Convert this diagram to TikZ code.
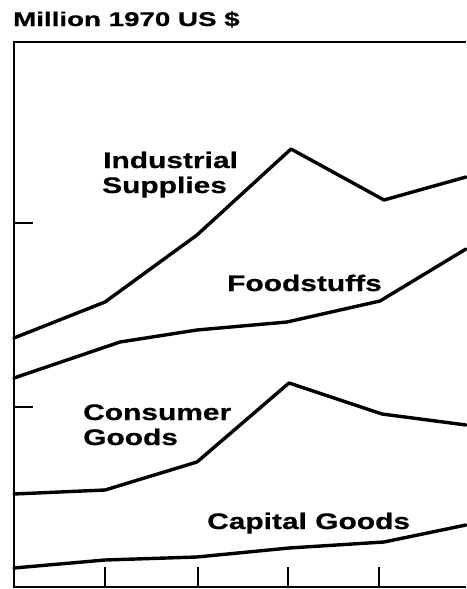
\documentclass[tikz,border=0pt]{standalone}
\usepackage{fontspec}
\newfontfamily\labfont[FakeStretch=1.33,FakeBold=0.6]{Liberation Sans}
\newfontfamily\ttlfont[FakeStretch=1.4,FakeBold=0.8]{Liberation Sans}
\begin{document}
\begin{tikzpicture}[x=1pt,y=-1pt,
  axis/.style={line width=2.8pt,line cap=butt,line join=miter},
  series/.style={line width=3.4pt,line join=round,line cap=round},
  lbl/.style={anchor=base west,inner sep=0pt,font=\labfont\bfseries\fontsize{22.5}{24}\selectfont},
  ttl/.style={anchor=base west,inner sep=0pt,font=\ttlfont\bfseries\fontsize{19.8}{22}\selectfont}]
\useasboundingbox (0,0) rectangle (466,589);
% frame
\draw[axis] (466,42) -- (14,42) -- (14,587) -- (466,587);
% y ticks
\draw[axis] (14,223) -- (33,223);
\draw[axis] (14,407) -- (33,407);
% x ticks
\foreach \xx in {105,198,288,379} \draw[axis] (\xx,567) -- (\xx,587);
% series
\draw[series] (14,338) -- (105,302) -- (197,235) -- (291,149) -- (384,200) -- (466,177);
\draw[series] (14,378) -- (120,342) -- (197,330) -- (287,322) -- (380,301) -- (466,249);
\draw[series] (14,494) -- (105,490) -- (197,462) -- (289,383) -- (382,414) -- (466,425);
\draw[series] (14,568) -- (105,560) -- (197,557) -- (289,548) -- (384,542) -- (466,525);
% labels
\node[ttl] (title) at (13,26) {Million 1970 US \$};
\node[lbl] (ind1) at (103,168) {Industrial};
\node[lbl] (ind2) at (102,193) {Supplies};
\node[lbl] (food) at (227,291) {Foodstuffs};
\node[lbl] (con1) at (83,420) {Consumer};
\node[lbl] (con2) at (83,445) {Goods};
\node[lbl] (cap) at (207,529) {Capital Goods};
\end{tikzpicture}
\end{document}
